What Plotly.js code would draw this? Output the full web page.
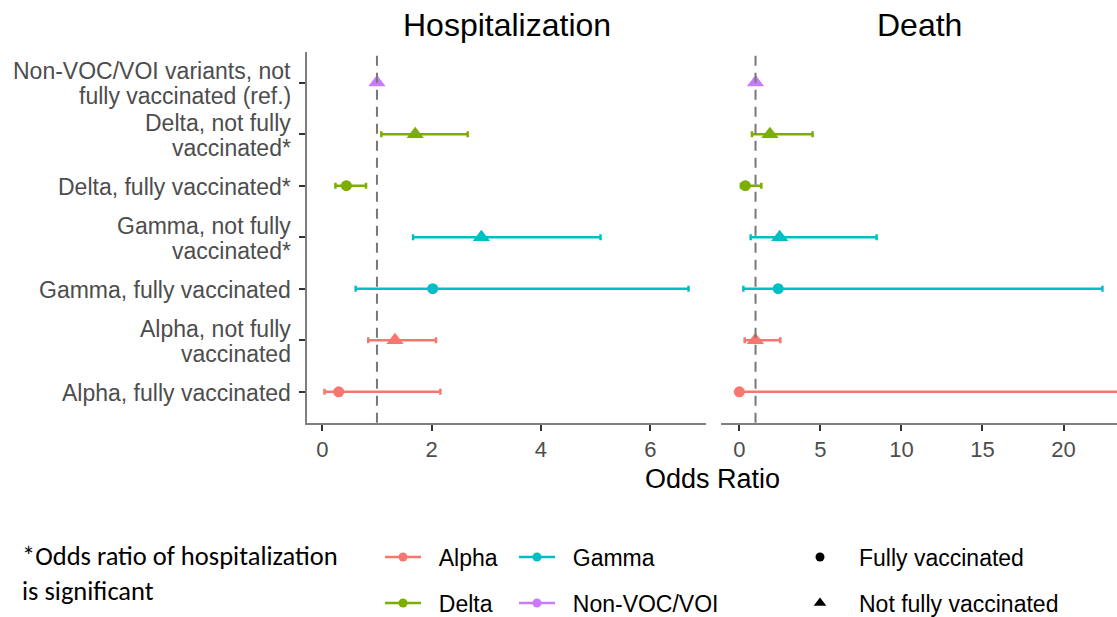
<!DOCTYPE html>
<html><head><meta charset="utf-8">
<script src="https://cdn.plot.ly/plotly-3.0.1.min.js"></script>
<style>html,body{margin:0;padding:0;background:#fff}</style>
</head><body><div id="chart" style="width:1117px;height:617px"></div>
<script>
// ---- data (rows listed bottom to top) ----
const rowLines = [
  ["Alpha, fully vaccinated"],
  ["Alpha, not fully", "vaccinated"],
  ["Gamma, fully vaccinated"],
  ["Gamma, not fully", "vaccinated*"],
  ["Delta, fully vaccinated*"],
  ["Delta, not fully", "vaccinated*"],
  ["Non-VOC/VOI variants, not", "fully vaccinated (ref.)"]
];
const rowPos = [1, 2, 3, 4, 5, 6, 7];
const rowVariant = ["Alpha", "Alpha", "Gamma", "Gamma", "Delta", "Delta", "Non-VOC/VOI"];
const rowStatus = ["Fully vaccinated", "Not fully vaccinated", "Fully vaccinated", "Not fully vaccinated",
                   "Fully vaccinated", "Not fully vaccinated", "Not fully vaccinated"];
const hospOR   = [0.30, 1.33, 2.02, 2.91, 0.44, 1.70, 1.00];
const hospLow  = [0.04, 0.84, 0.61, 1.66, 0.24, 1.08, null];
const hospHigh = [2.16, 2.08, 6.70, 5.09, 0.80, 2.66, null];
const deathOR   = [0.00, 0.99, 2.40, 2.49, 0.37, 1.89, 1.00];
const deathLow  = [0.00, 0.33, 0.25, 0.70, 0.10, 0.78, null];
const deathHigh = [45.0, 2.53, 22.4, 8.47, 1.36, 4.52, null];
const variants = ["Alpha", "Gamma", "Delta", "Non-VOC/VOI"];
const variantColors = ["#F8766D", "#00BFC4", "#7CAE00", "#C77CFF"];
const statuses = ["Fully vaccinated", "Not fully vaccinated"];
const statusSymbols = ["circle", "triangle-up"];
const hospTicks = [0, 2, 4, 6];
const deathTicks = [0, 5, 10, 15, 20];
const refValue = 1;
const panelTitles = ["Hospitalization", "Death"];
const xTitle = "Odds Ratio";
const footnote = ["*Odds ratio of hospitalization", "is significant"];

// ---- build ----
const W = 1117, H = 617;
const px = v => v / W, py = v => 1 - v / H;
const colorOf = v => variantColors[variants.indexOf(v)];
const symOf = s => statusSymbols[statuses.indexOf(s)];
const sizeOf = s => s === "Fully vaccinated" ? 11 : 15;

const traces = [];
function addPanel(or, lo, hi, xa, ya) {
  for (let i = 0; i < rowPos.length; i++) {
    const c = colorOf(rowVariant[i]);
    const t = {
      type: "scatter", mode: "markers", x: [or[i]], y: [rowPos[i]], xaxis: xa, yaxis: ya,
      showlegend: false, hoverinfo: "skip", cliponaxis: true,
      marker: {color: c, symbol: symOf(rowStatus[i]), size: sizeOf(rowStatus[i]), line: {width: 0}}
    };
    if (lo[i] !== null) {
      t.error_x = {type: "data", symmetric: false, array: [hi[i] - or[i]], arrayminus: [or[i] - lo[i]],
                   color: c, thickness: 2.5, width: 3};
    }
    traces.push(t);
  }
}
addPanel(hospOR, hospLow, hospHigh, "x", "y");
addPanel(deathOR, deathLow, deathHigh, "x2", "y2");

// legend traces: one small legend per entry, for exact placement
const FONT = "Liberation Sans, Arial, sans-serif";
const NB = "\u00a0\u00a0";
const legendBase = {orientation: "h", xanchor: "left", yanchor: "middle", bgcolor: "rgba(0,0,0,0)",
  font: {family: FONT, size: 23, color: "#000"}, itemclick: false, itemdoubleclick: false};
const legendDefs = {};
const variantSlots = [[380, 557], [514, 557], [380, 603], [514, 603]];
variants.forEach((v, k) => {
  const id = "legend" + (k === 0 ? "" : (k + 1));
  traces.push({
    type: "scatter", mode: "lines+markers", x: [null], y: [null], name: NB + v, legend: id,
    line: {color: variantColors[k], width: 2.5}, marker: {color: variantColors[k], size: 9, symbol: "circle"}
  });
  legendDefs[id] = Object.assign({}, legendBase, {x: px(variantSlots[k][0]), y: py(variantSlots[k][1]), itemwidth: 36});
});
const statusSlots = [[781, 557], [781, 603]];
statuses.forEach((s, k) => {
  const id = "legend" + (k + 5);
  traces.push({
    type: "scatter", mode: "markers", x: [null], y: [null], name: s, legend: id,
    marker: {color: "#000", size: k === 0 ? 9 : 11, symbol: statusSymbols[k]}
  });
  legendDefs[id] = Object.assign({}, legendBase, {x: px(statusSlots[k][0]), y: py(statusSlots[k][1]), itemwidth: 68});
});

const axisLine = "#7f7f7f";
const yDom = [py(422.7), py(51.7)];
const baseX = {showgrid: false, zeroline: false, showline: true, linecolor: axisLine, linewidth: 2,
  ticks: "outside", ticklen: 6, tickwidth: 2, tickcolor: "#333", ticklabelstandoff: 0,
  tickfont: {family: FONT, size: 22, color: "#4d4d4d"}};

const annotations = [];
rowLines.forEach((lines, i) => {
  const shifts = lines.length === 1 ? [0] : [12.5, -12.5];
  lines.forEach((txt, j) => annotations.push({
    xref: "paper", yref: "y", x: px(307), y: rowPos[i], xshift: -14, yshift: shifts[j] - 1,
    xanchor: "right", yanchor: "middle", showarrow: false, text: txt,
    font: {family: FONT, size: 23, color: "#4d4d4d"}
  }));
});
annotations.push({xref: "paper", yref: "paper", x: px((307 + 706) / 2), y: py(25), xanchor: "center", yanchor: "middle",
  showarrow: false, text: panelTitles[0], font: {family: FONT, size: 32, color: "#000"}});
annotations.push({xref: "paper", yref: "paper", x: px((721 + 1117) / 2), y: py(25), xanchor: "center", yanchor: "middle",
  showarrow: false, text: panelTitles[1], font: {family: FONT, size: 32, color: "#000"}});
annotations.push({xref: "paper", yref: "paper", x: px(712), y: py(479), xanchor: "center", yanchor: "middle",
  showarrow: false, text: xTitle, font: {family: FONT, size: 27, color: "#000"}});
footnote.forEach((t, j) => annotations.push({xref: "paper", yref: "paper", x: px(20), y: py(556 + 35 * j),
  xanchor: "left", yanchor: "middle", showarrow: false, text: t,
  font: {family: "Carlito, Lato, sans-serif", size: 26.5, color: "#000"}}));

const layout = Object.assign({
  width: W, height: H, margin: {l: 0, r: 0, t: 0, b: 0, autoexpand: false},
  paper_bgcolor: "#fff", plot_bgcolor: "#fff",
  xaxis: Object.assign({}, baseX, {domain: [px(307), px(706)], range: [-0.28, 7.02], tickvals: hospTicks, anchor: "y"}),
  xaxis2: Object.assign({}, baseX, {domain: [px(721), 1], range: [-1.13, 23.3], tickvals: deathTicks, anchor: "y2"}),
  yaxis: {domain: yDom, range: [0.4, 7.6], tickvals: rowPos, showticklabels: false, showgrid: false, zeroline: false,
    showline: true, linecolor: axisLine, linewidth: 2, ticks: "outside", ticklen: 6, tickwidth: 2, tickcolor: "#333", anchor: "x"},
  yaxis2: {domain: yDom, range: [0.4, 7.6], showticklabels: false, showgrid: false, zeroline: false, showline: false,
    ticks: "", anchor: "x2"},
  shapes: [
    {type: "line", xref: "x", yref: "y domain", x0: refValue, x1: refValue, y0: 0, y1: 1,
     line: {color: "#777", width: 2, dash: "10px,7px"}},
    {type: "line", xref: "x2", yref: "y2 domain", x0: refValue, x1: refValue, y0: 0, y1: 1,
     line: {color: "#777", width: 2, dash: "10px,7px"}}
  ],
  annotations: annotations,
  showlegend: true
}, legendDefs);

Plotly.newPlot("chart", traces, layout, {displayModeBar: false, staticPlot: true});
</script></body></html>
